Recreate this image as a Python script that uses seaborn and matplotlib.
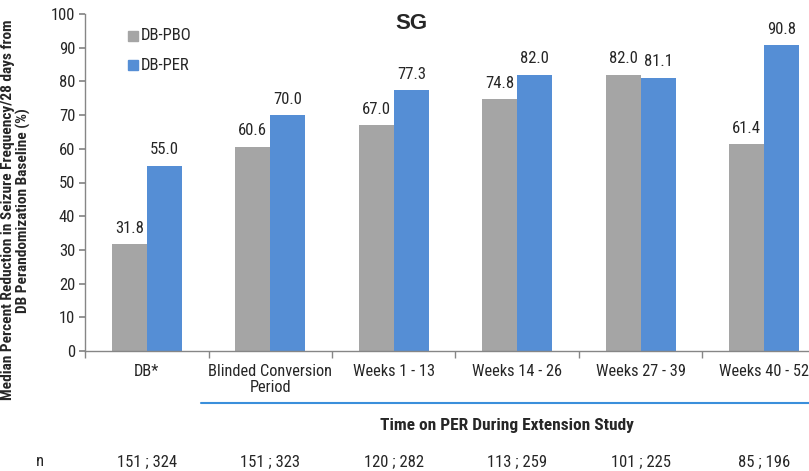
import matplotlib
matplotlib.use("Agg")
import matplotlib.pyplot as plt
import matplotlib.transforms as mtransforms
from matplotlib.font_manager import fontManager
import seaborn as sns
import pandas as pd

categories = ["DB*", "Blinded Conversion\nPeriod", "Weeks 1 - 13", "Weeks 14 - 26",
              "Weeks 27 - 39", "Weeks 40 - 52"]
pbo_values = [31.8, 60.6, 67.0, 74.8, 82.0, 61.4]
per_values = [55.0, 70.0, 77.3, 82.0, 81.1, 90.8]
n_labels = ["151 ; 324", "151 ; 323", "120 ; 282", "113 ; 259", "101 ; 225", "85 ; 196"]
series = ["DB-PBO", "DB-PER"]
colors = ["#A5A5A5", "#558ED5"]

sns.set_theme(style="white")
names = {f.name for f in fontManager.ttflist}
family = next((f for f in ["Roboto Condensed", "Archivo Narrow", "PT Sans Narrow"] if f in names),
              "Liberation Sans")
plt.rcParams["font.family"] = [family, "DejaVu Sans"]

df = pd.DataFrame({
    "period": categories * 2,
    "group": [series[0]] * len(categories) + [series[1]] * len(categories),
    "value": pbo_values + per_values,
})

fig = plt.figure(figsize=(8.09, 4.71), dpi=100)
ax = fig.add_axes([85 / 809, 1 - 351 / 471, 741 / 809, 337 / 471])

sns.barplot(data=df, x="period", y="value", hue="group", order=categories,
            hue_order=series, palette=colors, width=0.567, saturation=1,
            errorbar=None, linewidth=0, ax=ax, legend=False)

for cont in ax.containers:
    ax.bar_label(cont, fmt="%.1f", padding=6, fontsize=12)

ax.set_xlim(-0.5, 5.5)
ax.set_ylim(0, 100)
ax.set_yticks(range(0, 101, 10))
ax.tick_params(axis="y", labelsize=12, length=4, color="#868686", left=True, pad=3)
ax.set_xticks(range(len(categories)))
ax.set_xticklabels(categories, fontsize=11.8, linespacing=1.15)
ax.tick_params(axis="x", length=0, pad=9)
ax.set_xticks([i - 0.5 for i in range(len(categories) + 1)], minor=True)
ax.tick_params(axis="x", which="minor", length=5, color="#868686", bottom=True)
ax.set_xlabel("")
ax.set_ylabel("Median Percent Reduction in Seizure Frequency/28 days from\nDB Perandomization Baseline (%)",
              fontsize=11.1, fontweight="bold", linespacing=1.08)
ax.yaxis.set_label_coords(-0.0725, 0.418)

for side in ["top", "right"]:
    ax.spines[side].set_visible(False)
for side in ["left", "bottom"]:
    ax.spines[side].set_color("#868686")
    ax.spines[side].set_linewidth(1)

ax.set_title("SG", fontsize=16, fontweight="bold", family=["Liberation Sans", "DejaVu Sans"],
             x=0.44, y=0.955, pad=0)

# legend with square markers
for i, (name, c) in enumerate(zip(series, colors)):
    y = 0.935 - i * 0.087
    ax.plot([0.065], [y], marker="s", ms=7, color=c, transform=ax.transAxes, clip_on=False)
    ax.text(0.075, y, name, transform=ax.transAxes, va="center", ha="left", fontsize=12)

# extension study bracket and n counts below the axis
trans = mtransforms.blended_transform_factory(ax.transData, ax.transAxes)
ax.plot([0.44, 6.0], [-0.155, -0.155], color="#3A8FDB", lw=1.5, transform=trans, clip_on=False)
ax.text(2.92, -0.22, "Time on PER During Extension Study", transform=trans, ha="center",
        va="center", fontsize=12.5, fontweight="bold")
for i, lab in enumerate(n_labels):
    ax.text(i, -0.327, lab, transform=trans, ha="center", va="center", fontsize=12)
fig.text(40 / 809, 1 - 461 / 471, "n", ha="center", va="center", fontsize=12)

fig.savefig("out.png", dpi=100)
